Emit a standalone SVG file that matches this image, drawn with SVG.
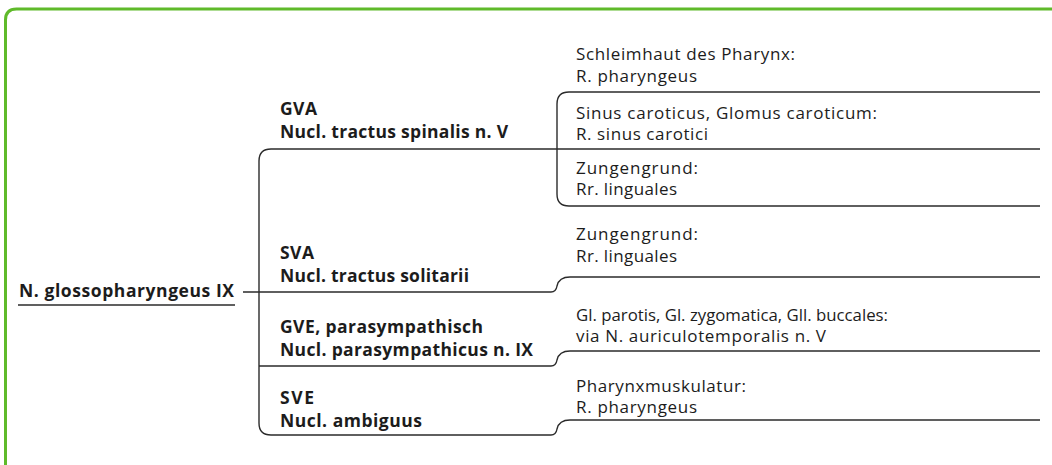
<svg xmlns="http://www.w3.org/2000/svg" width="1052" height="465" viewBox="0 0 1052 465">
  <style>
    .frame { fill: none; stroke: #5fba2a; stroke-width: 3; }
    .conn { fill: none; stroke: #2b2b2b; stroke-width: 1.4; }
    .b { font-family: "Open Sans", "Liberation Sans", sans-serif; font-weight: bold; font-size: 17.5px; fill: #1c1c1c; }
    .r { font-family: "Open Sans", "Liberation Sans", sans-serif; font-size: 17px; fill: #1c1c1c; }
  </style>
  <rect width="1052" height="465" fill="#ffffff"/>
  <path class="frame" d="M5.5 467 V20 Q5.5 9 16.5 9 H1054"/>

  <g id="connectors">
    <line class="conn" x1="18" y1="305" x2="235" y2="305"/>
    <path class="conn" d="M243 292 H551 Q556 292 557 286 Q559 277 570 277 H1040"/>
    <path class="conn" d="M1040 149 H271 Q259 149 259 161 V423 Q259 435 271 435 H551 Q556 435 557 429 Q559 420 570 420 H1040"/>
    <path class="conn" d="M259 366 H551 Q556 366 557 360 Q559 351 570 351 H1040"/>
    <path class="conn" d="M1040 92 H569 Q557 92 557 104 V194 Q557 206 569 206 H1040"/>
  </g>

  <g id="root">
    <text class="b" x="19" y="297" textLength="215">N. glossopharyngeus IX</text>
  </g>

  <g id="gva">
    <text class="b" x="280" y="115" textLength="37">GVA</text>
    <text class="b" x="280" y="138" textLength="228">Nucl. tractus spinalis n. V</text>
  </g>
  <g id="sva">
    <text class="b" x="280" y="259" textLength="34">SVA</text>
    <text class="b" x="280" y="282" textLength="189">Nucl. tractus solitarii</text>
  </g>
  <g id="gve">
    <text class="b" x="280" y="333" textLength="203">GVE, parasympathisch</text>
    <text class="b" x="280" y="356" textLength="253">Nucl. parasympathicus n. IX</text>
  </g>
  <g id="sve">
    <text class="b" x="280" y="404" textLength="34">SVE</text>
    <text class="b" x="280" y="427" textLength="142">Nucl. ambiguus</text>
  </g>

  <g id="gva-pharynx">
    <text class="r" x="576" y="60" textLength="219">Schleimhaut des Pharynx:</text>
    <text class="r" x="576" y="82" textLength="121">R. pharyngeus</text>
  </g>
  <g id="gva-sinus">
    <text class="r" x="576" y="119" textLength="301">Sinus caroticus, Glomus caroticum:</text>
    <text class="r" x="576" y="140" textLength="132">R. sinus carotici</text>
  </g>
  <g id="gva-zunge">
    <text class="r" x="576" y="174" textLength="122">Zungengrund:</text>
    <text class="r" x="576" y="195" textLength="101">Rr. linguales</text>
  </g>
  <g id="sva-zunge">
    <text class="r" x="576" y="240" textLength="122">Zungengrund:</text>
    <text class="r" x="576" y="262" textLength="101">Rr. linguales</text>
  </g>
  <g id="gve-glands">
    <text class="r" x="576" y="321" textLength="312" lengthAdjust="spacingAndGlyphs">Gl. parotis, Gl. zygomatica, Gll. buccales:</text>
    <text class="r" x="576" y="342" textLength="250">via N. auriculotemporalis n. V</text>
  </g>
  <g id="sve-muscle">
    <text class="r" x="576" y="392" textLength="170">Pharynxmuskulatur:</text>
    <text class="r" x="576" y="413" textLength="121">R. pharyngeus</text>
  </g>
</svg>
